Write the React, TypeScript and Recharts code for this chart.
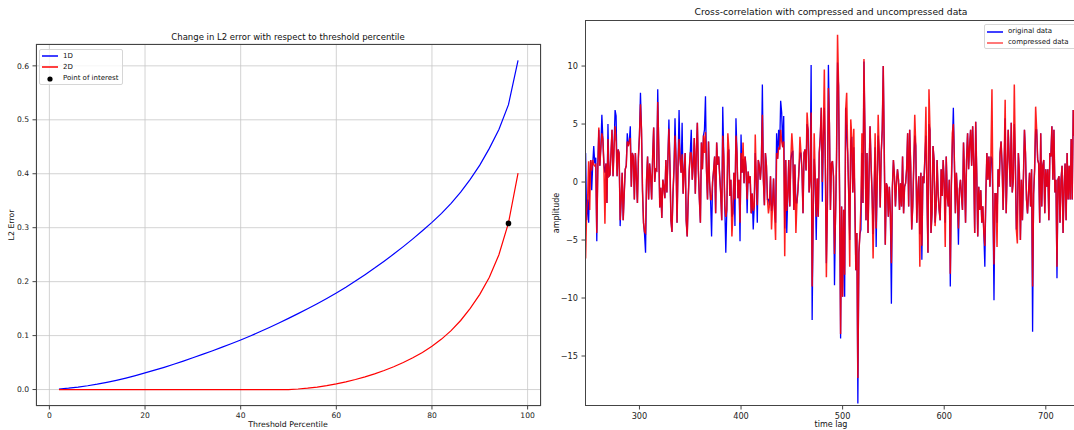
import { ComposedChart, Line, Scatter, XAxis, YAxis, CartesianGrid } from 'recharts'

// left panel: L2 error vs threshold percentile
const PERCENTILES = [
  2, 4, 6, 8, 10, 12, 14, 16, 18, 20, 22, 24, 26, 28, 30, 32, 34, 36, 38, 40, 42, 44, 46, 48, 50,
  52, 54, 56, 58, 60, 62, 64, 66, 68, 70, 72, 74, 76, 78, 80, 82, 84, 86, 88, 90, 92, 94, 96, 98,
]
const L2_1D = [
  0.001, 0.0026, 0.0046, 0.007, 0.0099, 0.0133, 0.0171, 0.0213, 0.0259, 0.0309, 0.0359, 0.0412,
  0.0468, 0.0527, 0.0589, 0.0651, 0.0715, 0.0781, 0.0849, 0.0919, 0.0993, 0.107, 0.115, 0.1233,
  0.1319, 0.1407, 0.1498, 0.1592, 0.1689, 0.1789, 0.1897, 0.2011, 0.2129, 0.2251, 0.2379, 0.2511,
  0.2649, 0.2793, 0.2943, 0.3099, 0.3265, 0.3451, 0.3659, 0.3895, 0.4159, 0.447, 0.482, 0.528, 0.61,
]
const L2_2D = [
  0, 0, 0, 0, 0, 0, 0, 0, 0, 0, 0, 0, 0, 0, 0, 0, 0, 0, 0, 0, 0, 0, 0, 0, 0,
  0.001, 0.0025, 0.0045, 0.0072, 0.0105, 0.0143, 0.0186, 0.0235, 0.029, 0.0352, 0.0422, 0.05,
  0.0588, 0.0688, 0.0802, 0.0935, 0.1092, 0.128, 0.1505, 0.1765, 0.208, 0.25, 0.309, 0.401,
]
const POINT_OF_INTEREST = [{ p: 96, err: 0.308 }]
const PCT_TICKS = [0, 20, 40, 60, 80, 100]
const ERR_TICKS = [0, 0.1, 0.2, 0.3, 0.4, 0.5, 0.6]

// right panel: cross-correlation, lags 246..728
const FIRST_LAG = 246
const ORIGINAL = [
  2.0,
  2.5, -3.3, -1.5, -3.5, 0.5, 1.9, -0.7, 1.5, 3.1, 1.6,
  2.1, -5.1, 1.4, 4.5, 1.4, 3.0, 5.8, 3.7, 1.5, 0.8,
  1.6, -1.8, 5.0, 0.5, 0.6, 2.5, 4.5, 0.5, 3.0, 6.2,
  5.7, 0.5, 2.8, 2.5, -3.8, -1.5, 0.8, -3.3, -1.0, 1.1,
  1.4, 4.2, 3.1, 3.5, 4.8, -0.4, 2.5, 2.2, -1.5, 2.5,
  0.5, -1.8, 2.2, 4.0, 7.7, 4.5, -0.7, -3.5, -4.5, -6.1,
  0.2, 2.2, -1.5, 1.6, 0.5, -1.5, 2.2, 4.7, 0.0, 1.1,
  1.0, 8.0, 3.0, -2.2, -0.5, -3.1, 0.2, -0.4, -1.4, 1.9,
  -0.9, 2.0, 5.4, 1.5, -3.3, -4.3, -1.0, 1.1, 5.5, 2.0,
  -3.5, 1.5, 6.2, 2.0, 0.8, 5.1, -1.0, 1.0, 2.5, -3.3,
  -4.7, -1.5, 1.0, 2.5, 4.5, 0.2, 1.6, 3.8, -1.0, 2.5,
  5.1, 1.0, -1.5, -3.5, 3.4, 1.1, 4.0, 4.5, 7.4, 1.0,
  -1.5, 3.5, 0.0, -1.5, -4.7, 0.0, 1.0, 2.2, -2.7, 3.4,
  1.5, 2.2, 0.5, -1.0, -3.3, 6.5, 2.2, -2.0, -6.1, -2.4,
  2.5, 2.8, -1.2, 0.2, -3.0, -2.7, 0.8, -3.8, 5.5, 2.5,
  -1.4, 0.2, -5.1, 4.1, 0.8, 2.0, -0.1, 2.2, 1.1, -2.7,
  0.9, -0.1, 0.5, -2.7, -1.0, -4.1, -2.1, 2.5, 0.2, -3.5,
  1.9, 1.4, 0.2, 1.6, 8.4, 0.2, -2.0, 2.5, 1.4, -1.5,
  -1.5, -2.0, 0.5, -2.5, -2.0, 0.3, -2.5, -3.5, 4.2, 2.0,
  4.5, 2.8, 7.0, 6.0, 3.0, 5.7, -4.0, 1.9, -4.4, -1.2,
  1.9, -2.1, 1.9, 2.5, 2.7, -2.4, 1.5, -1.8, -1.8, -0.7,
  1.0, 2.5, 2.5, 1.0, -2.7, 2.5, 2.8, 1.0, 5.0, 4.5,
  -0.9, 0.2, 10.1, -11.9, -3.0, 2.0, 0.5, -5.0, 0.3, -3.0,
  2.5, 3.9, 6.4, -1.7, 3.9, 6.4, 1.5, -7.0, -2.0, 10.1,
  5.0, -2.4, 1.6, 1.8, 0.5, -8.9, -3.0, 2.0, 10.3, 8.3,
  -1.0, -13.5, -2.1, -9.9, -2.4, -9.9, 6.4, 4.0, 2.5, -1.0,
  -5.0, 3.5, 3.9, -0.9, 3.0, -1.5, -7.6, -4.4, -19.1, -6.1,
  -4.5, -4.1, 2.5, -1.8, 10.4, 4.0, -3.3, 2.5, -4.4, 0.5,
  4.8, 1.5, -1.0, -4.5, -0.9, 3.0, -5.6, 0.0, 4.0, 2.5,
  -2.2, 2.5, 4.5, 10.0, 2.5, -5.4, -0.1, -0.4, -3.0, -0.4,
  -2.7, -10.5, -0.4, 1.9, 0.5, -2.1, -0.1, 1.1, 0.2, -2.4,
  -0.1, -2.1, 2.2, -2.7, -0.4, -0.1, 1.1, 4.2, -2.1, 4.5,
  1.4, -4.1, -2.1, 1.4, 4.0, 3.1, -3.5, -0.9, 0.5, -4.5,
  0.8, -6.7, 0.5, -0.1, 2.2, 4.0, -0.9, -6.1, 5.0, 4.5,
  -4.4, -2.7, 3.1, 1.9, -3.5, -2.1, 1.9, -1.0, -2.4, -3.3,
  1.1, -1.2, 1.9, -0.1, -3.5, 2.2, -1.2, -2.1, 0.2, -9.0,
  -0.4, 3.0, 6.4, 1.9, -2.7, 0.8, -1.2, -5.4, -0.6, 0.2,
  -1.2, -2.4, 3.4, 0.5, -3.5, 1.9, 4.2, 1.1, 3.1, 4.5,
  1.4, 4.8, 1.6, -4.4, 5.2, 0.8, -4.7, -0.4, -2.4, -0.7,
  -3.5, -2.1, -4.4, -7.3, -1.0, 2.5, 0.2, 2.2, -0.4, 2.2,
  2.0, -2.1, -10.2, -1.0, -1.0, -3.5, 1.1, -0.4, 2.5, 3.5,
  1.4, -2.4, 1.5, 5.5, -2.7, 1.1, 4.5, 1.9, -0.4, 5.1,
  -0.9, 0.2, 5.0, 1.9, -4.1, -3.0, 2.5, 0.8, -5.0, 0.2,
  -3.3, 0.5, 4.5, 2.5, -1.5, -2.7, -0.9, 0.8, -2.1, 1.1,
  -12.9, -1.0, 1.1, 4.5, 4.5, 1.9, 1.6, -3.5, 4.2, -2.1,
  1.4, 1.9, -2.7, 1.1, -0.4, 1.1, -3.3, 2.5, 2.2, 4.8,
  0.2, 4.5, -0.9, 0.2, -8.3, 0.2, 0.5, -3.5, 0.2, 1.4,
  -4.4, -0.4, 1.6, -3.3, 2.5, -1.5, 1.4, -1.5, 3.7, -1.5,
  6.2, 4.0,
]
const COMPRESSED = [
  0.5,
  -6.6, -2.5, -1.5, 1.8, -2.4, 1.9, 1.0, 1.9, 1.5, 1.4,
  1.5, -4.4, 1.0, 4.7, 1.4, 3.0, 4.2, 3.7, 1.5, -3.6,
  1.6, -1.8, 3.7, 0.5, 0.6, 2.5, 4.5, 0.5, 3.0, 4.8,
  3.5, 0.5, 2.8, 2.5, -3.3, -1.5, 0.8, -3.3, -1.0, 1.1,
  1.4, 3.5, 3.1, 3.5, 3.8, -0.4, 2.5, 2.2, -1.5, 2.5,
  0.5, -1.8, 2.2, 4.0, 6.7, 4.5, -0.7, -3.5, -4.3, -4.4,
  0.2, 2.2, -1.5, 1.6, 0.5, -1.5, 2.2, 4.7, 0.0, 1.1,
  1.0, 6.9, 3.0, -2.2, -0.5, -3.1, 0.2, -0.4, -1.4, 1.9,
  -0.9, 2.0, 4.6, 1.5, -3.3, -4.3, -1.0, 1.1, 4.0, 2.0,
  -3.5, 1.5, 3.7, 2.0, 0.8, 2.4, -1.0, 1.0, 2.5, -3.3,
  -4.7, -1.5, 1.0, 2.5, 2.5, 0.2, 1.6, 3.8, -1.0, 2.5,
  5.1, 1.0, -1.5, -3.5, 3.4, 1.1, 4.0, 2.5, 4.3, 1.0,
  -1.5, 3.5, 0.0, -1.5, -1.5, 0.0, 1.0, 2.2, -2.7, 3.4,
  1.5, 2.2, 0.5, -1.0, -3.3, 4.0, 2.2, -2.0, -3.0, -2.4,
  4.2, 2.8, -1.2, 0.2, -4.7, -2.7, 0.8, -1.5, 4.0, 2.5,
  -1.4, 0.2, -3.5, 2.5, 0.8, 3.4, -0.1, 2.2, 1.1, -1.5,
  0.9, -0.1, 0.5, -2.7, -1.0, -2.5, -2.1, 4.1, 0.2, -2.0,
  1.9, 1.4, 0.2, 1.6, 5.8, 0.2, -2.0, 2.5, 1.4, -1.5,
  -2.7, -2.0, 0.5, -4.1, -2.0, 0.3, -2.5, -5.0, 2.5, 2.0,
  3.0, 2.8, 4.5, 3.5, 3.0, 3.5, -6.4, 1.9, -2.5, -1.2,
  1.9, -2.1, 1.9, 4.2, 2.7, -2.4, 1.5, -4.4, -1.8, -0.7,
  1.0, 3.9, 2.5, 1.0, -2.7, 2.5, 2.8, 1.0, 6.0, 4.5,
  -0.9, 0.2, 6.0, -9.0, -3.0, 4.2, 0.5, -3.0, 0.3, -3.0,
  2.5, 3.9, 6.4, 0.0, 3.9, 9.7, 1.5, -8.2, -2.0, 8.1,
  5.0, -2.4, 1.6, 1.8, 0.5, -6.2, -3.0, 2.0, 12.7, 8.3,
  -1.0, -13.1, -2.1, -9.9, -2.4, -8.0, 6.2, 7.7, 2.5, -1.0,
  -7.3, 5.4, 3.9, -0.9, 4.6, -1.5, -7.6, -4.4, -16.9, -6.1,
  -4.5, -2.0, 4.2, -1.8, 10.6, 4.0, -3.3, 2.5, -4.4, 0.5,
  4.8, 1.5, -1.0, -6.6, -0.9, 4.2, -4.0, 0.0, 5.8, 2.5,
  -2.2, 2.5, 4.5, 10.0, 2.5, -5.4, -0.1, -0.4, -3.0, -0.4,
  -2.7, -7.0, -0.4, 1.9, 0.5, -2.1, -0.1, 1.1, 0.2, -2.4,
  -0.1, -2.1, 2.2, -2.7, -0.4, -0.1, 1.1, 4.2, -2.1, 4.5,
  1.4, -4.1, -2.1, 1.4, 5.8, 3.1, -3.5, -0.9, 0.5, -7.3,
  0.8, -5.5, 0.5, -0.1, 2.2, 6.5, -0.9, -6.1, 8.0, 4.5,
  -4.4, -2.7, 3.1, 1.9, -3.8, -2.1, 1.9, -1.0, -2.4, -3.3,
  1.1, -1.2, 1.9, -0.1, -5.6, 2.2, -1.2, -2.1, 0.2, -7.9,
  -0.4, 4.2, 5.0, 1.9, -2.7, 0.8, -1.2, -4.0, -0.6, 0.2,
  -1.2, -2.4, 3.4, 0.5, -3.5, 1.9, 4.2, 1.1, 3.1, 4.5,
  1.4, 4.8, 1.6, -4.4, 5.2, 0.8, -4.7, -0.4, -2.4, -0.7,
  -3.5, -2.1, -4.4, -5.5, -1.0, 2.5, 0.2, 2.2, -0.4, 2.2,
  8.0, -2.1, -7.1, -1.0, -1.0, -5.6, 1.1, -0.4, 2.5, 3.5,
  1.4, -2.4, 1.5, 7.1, -2.7, 1.1, 4.5, 1.9, -0.4, 5.1,
  -0.9, 0.2, 8.4, 1.9, -4.1, -5.3, 2.5, 0.8, -5.0, 0.2,
  -3.3, 0.5, 4.5, 2.5, -1.5, -2.7, -0.9, 0.8, -2.1, 1.1,
  -9.0, -1.0, 1.1, 6.5, 4.5, 1.9, 1.6, -3.5, 4.2, -2.1,
  1.4, 1.9, -2.7, 1.1, -0.4, 1.1, -3.3, 2.5, 2.2, 4.8,
  0.2, 4.5, -0.9, 0.2, -7.3, 0.2, 0.5, -3.5, 0.2, 1.4,
  -4.4, -0.4, 1.6, -3.3, 2.5, -1.5, 1.4, -1.5, 3.7, -1.5,
  6.2, 4.0,
]
const LAG_TICKS = [300, 400, 500, 600, 700]
const AMP_TICKS = [-15, -10, -5, 0, 5, 10]

const FONT = '"DejaVu Sans", sans-serif'
const TICK_L = { fontSize: 7.6, fill: '#222', fontFamily: FONT }
const TICK_R = { fontSize: 8.2, fill: '#222', fontFamily: FONT }
const SPINE = '#444'

const rows1d = PERCENTILES.map((p, i) => ({ p, err: L2_1D[i] }))
const rows2d = PERCENTILES.map((p, i) => ({ p, err: L2_2D[i] }))
const corrRows = ORIGINAL.map((v, i) => ({ lag: FIRST_LAG + i, original: v, compressed: COMPRESSED[i] }))

const minus = (v: number) => (v < 0 ? '\u2212' + Math.abs(v) : String(v))

function Text({ x, y, children, size = 7.8, rotate = false }: any) {
  return (
    <div
      style={{
        position: 'absolute',
        left: x,
        top: y,
        transform: `translate(-50%, -50%)${rotate ? ' rotate(-90deg)' : ''}`,
        fontSize: size,
        fontFamily: FONT,
        color: '#111',
        whiteSpace: 'nowrap',
        lineHeight: 1,
      }}
    >
      {children}
    </div>
  )
}

function Frame({ left, top, width, height }: any) {
  return (
    <div
      style={{
        position: 'absolute',
        left,
        top,
        width,
        height,
        boxSizing: 'border-box',
        border: `1px solid ${SPINE}`,
        pointerEvents: 'none',
      }}
    />
  )
}

function LegendRow({ top, color, label, marker = 'line', opacity = 1 }: any) {
  return (
    <div style={{ position: 'absolute', left: 2, top, height: 10, display: 'flex', alignItems: 'center' }}>
      <svg width={16} height={10} style={{ display: 'block' }}>
        {marker === 'line' ? (
          <line x1={0} y1={5} x2={16} y2={5} stroke={color} strokeOpacity={opacity} strokeWidth={1.5} />
        ) : (
          <circle cx={8} cy={5} r={2.6} fill={color} />
        )}
      </svg>
      <span style={{ marginLeft: 5, fontSize: 7, fontFamily: FONT, color: '#111', whiteSpace: 'nowrap', lineHeight: 1 }}>
        {label}
      </span>
    </div>
  )
}

export default function App() {
  return (
    <div style={{ position: 'absolute', left: 0, top: 0, width: 1074, height: 430, overflow: 'hidden', background: '#fff' }}>
      {/* left panel */}
      <div style={{ position: 'absolute', left: 0, top: 0 }}>
        <ComposedChart width={545} height={430} margin={{ top: 44, right: 4, bottom: 0, left: 0 }}>
          <CartesianGrid stroke="#c8c8c8" strokeWidth={0.8} />
          <XAxis
            type="number"
            dataKey="p"
            domain={[-2.8, 102.8]}
            ticks={PCT_TICKS}
            allowDataOverflow
            height={24}
            tickSize={3.5}
            tickMargin={3.5}
            axisLine={false}
            tickLine={{ stroke: SPINE }}
            tick={TICK_L}
          />
          <YAxis
            type="number"
            domain={[-0.0305, 0.6405]}
            ticks={ERR_TICKS}
            allowDataOverflow
            width={36}
            tickSize={3.5}
            tickMargin={3.5}
            axisLine={false}
            tickLine={{ stroke: SPINE }}
            tick={TICK_L}
            tickFormatter={(v: number) => v.toFixed(1)}
          />
          <Line data={rows1d} dataKey="err" stroke="#0000ff" strokeWidth={1.2} dot={false} isAnimationActive={false} />
          <Line data={rows2d} dataKey="err" stroke="#ff0000" strokeWidth={1.2} dot={false} isAnimationActive={false} />
          <Scatter
            data={POINT_OF_INTEREST}
            dataKey="err"
            fill="#000"
            isAnimationActive={false}
            shape={(props: any) => <circle cx={props.cx} cy={props.cy} r={2.8} fill="#000" />}
          />
        </ComposedChart>
      </div>
      <Frame left={36} top={44} width={505} height={362} />
      <Text x={288} y={37} size={8.5}>Change in L2 error with respect to threshold percentile</Text>
      <Text x={288} y={425}>Threshold Percentile</Text>
      <Text x={12} y={225} rotate>L2 Error</Text>
      <div
        style={{
          position: 'absolute',
          left: 39,
          top: 49,
          width: 84,
          height: 36,
          boxSizing: 'border-box',
          border: '1px solid #d6d6d6',
          borderRadius: 2,
          background: 'rgba(255,255,255,0.8)',
        }}
      >
        <LegendRow top={1} color="#0000ff" label="1D" />
        <LegendRow top={12} color="#ff0000" label="2D" />
        <LegendRow top={23.5} color="#000" label="Point of interest" marker="dot" />
      </div>

      {/* right panel */}
      <div style={{ position: 'absolute', left: 545, top: 0 }}>
        <ComposedChart data={corrRows} width={534} height={430} margin={{ top: 20, right: 1, bottom: 0, left: 0 }}>
          <XAxis
            type="number"
            dataKey="lag"
            domain={[246.4, 731.7]}
            ticks={LAG_TICKS}
            allowDataOverflow
            height={24}
            tickSize={3.5}
            tickMargin={3.5}
            axisLine={false}
            tickLine={{ stroke: SPINE }}
            tick={TICK_R}
          />
          <YAxis
            type="number"
            domain={[-19.31, 13.97]}
            ticks={AMP_TICKS}
            allowDataOverflow
            width={40}
            tickSize={3.5}
            tickMargin={3.5}
            axisLine={false}
            tickLine={{ stroke: SPINE }}
            tick={TICK_R}
            tickFormatter={minus}
          />
          <Line dataKey="original" stroke="#0000ff" strokeWidth={1.3} dot={false} isAnimationActive={false} />
          <Line
            dataKey="compressed"
            stroke="#ff0000"
            strokeOpacity={0.88}
            strokeWidth={1.5}
            dot={false}
            isAnimationActive={false}
          />
        </ComposedChart>
      </div>
      <Frame left={585} top={20} width={493} height={386} />
      <Text x={831} y={12} size={9.2}>Cross-correlation with compressed and uncompressed data</Text>
      <Text x={831} y={425} size={8}>time lag</Text>
      <Text x={557} y={213} size={8} rotate>amplitude</Text>
      <div
        style={{
          position: 'absolute',
          left: 984,
          top: 24,
          width: 96,
          height: 25,
          boxSizing: 'border-box',
          border: '1px solid #d6d6d6',
          borderRadius: 2,
          background: 'rgba(255,255,255,0.8)',
        }}
      >
        <LegendRow top={1.5} color="#0000ff" label="original data" />
        <LegendRow top={12.5} color="#ff0000" label="compressed data" opacity={0.7} />
      </div>
    </div>
  )
}
